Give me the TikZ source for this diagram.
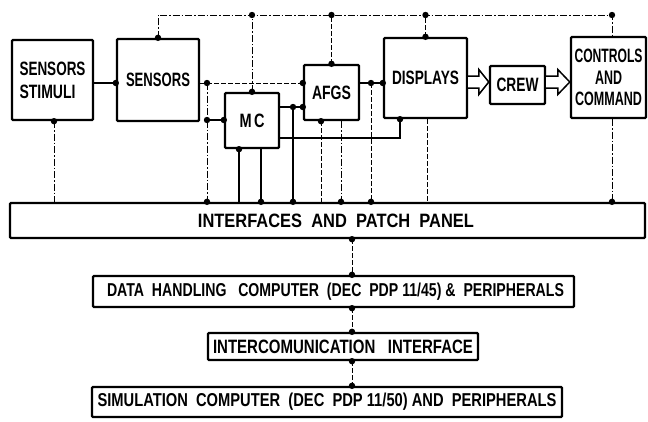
\documentclass[tikz,border=0pt]{standalone}
\usepackage{fontspec}
\usepackage{graphicx}
\setmainfont{Liberation Sans}
\usetikzlibrary{calc}
\newcommand\tx[2]{\resizebox{#1pt}{13.5pt}{\bfseries #2}}
\newcommand\jdot[1]{\fill (#1) circle (3.2pt);}
\tikzset{
  box/.style={draw, line width=2.4pt, rectangle, inner sep=0pt, rounded corners=1pt, fill=white,
    font=\fontsize{16}{23}\selectfont},
  sol/.style={line width=1.3pt},
  dd/.style={line width=1pt, dash pattern=on 7pt off 2pt on 1.5pt off 2pt},
  dsh/.style={line width=1pt, dash pattern=on 5pt off 2pt},
  harrow/.style={line width=1.5pt, fill=white, line join=miter}
}
\begin{document}
\begin{tikzpicture}[x=1pt,y=-1pt]
\useasboundingbox[fill=white] (0,0) rectangle (648,421);
% boxes
\node[box, minimum width=81pt, minimum height=80pt, align=left] (stim) at (52.5,80) {\tx{66}{SENSORS}\\\tx{56}{STIMULI}};
\node[box, minimum width=82pt, minimum height=82pt] (sens) at (158,80) {\tx{64}{SENSORS}};
\node[box, minimum width=54pt, minimum height=55pt] (mc) at (252,120.5) {\tx{25}{M\,C}};
\node[box, minimum width=55pt, minimum height=55pt] (afgs) at (331.5,92.5) {\tx{39}{AFGS}};
\node[box, minimum width=83pt, minimum height=80pt] (disp) at (425.5,78) {\tx{67}{DISPLAYS}};
\node[box, minimum width=55pt, minimum height=38pt] (crew) at (517.5,85) {\tx{42}{CREW}};
\node[box, minimum width=75pt, minimum height=81pt, align=center] (ctrl) at (608.5,77.5) {\tx{68}{CONTROLS}\\[-1.5pt]\tx{27}{AND}\\[-1.5pt]\tx{67}{COMMAND}};
\node[box, minimum width=635pt, minimum height=35pt] (intf) at (327.5,220.5) {\hspace*{17pt}\tx{276}{INTERFACES\ \ AND\ \ PATCH\ \ PANEL}};
\node[box, minimum width=481pt, minimum height=31pt] (data) at (333.5,291.5) {\hspace*{4pt}\tx{457}{DATA\ \ HANDLING\ \ \ COMPUTER\ \ (DEC\ \ PDP\ 11/45)\ \&\ \ PERIPHERALS}};
\node[box, minimum width=270pt, minimum height=27pt] (ic) at (343,346.5) {\tx{260}{INTERCOMUNICATION\ \ \ INTERFACE}};
\node[box, minimum width=470pt, minimum height=30pt] (sim) at (327,402) {\tx{459}{SIMULATION\ \ COMPUTER\ \ (DEC\ \ PDP\ 11/50)\ AND\ \ PERIPHERALS}};
% coordinates
\coordinate (xa) at (54,0);
\coordinate (j1) at (207,83);
\coordinate (j1b) at (207,120);
\coordinate (xm1) at (239,0);
\coordinate (xm2) at (261,0);
\coordinate (j2) at (293,107);
\coordinate (xf1) at (321,0);
\coordinate (xf2) at (341,0);
\coordinate (j3) at (371,83);
\coordinate (xd) at (427,0);
\coordinate (xc) at (612,0);
\coordinate (ybus) at (0,15);
\coordinate (k) at (400,138);
\coordinate (xq) at (352,0);
% connectors
\draw[sol] (stim.east |- j1) -- (sens.west |- j1);
\draw[dsh] (sens.east |- j1) -- (afgs.west |- j1);
\draw[dd] (stim.south -| xa) -- (xa |- intf.north);
\draw[dd] (j1) -- (j1 |- intf.north);
\draw[sol] (j1b) -- (mc.west |- j1b);
\draw[sol] (mc.east |- j2) -- (afgs.west |- j2);
\draw[sol] (j2) -- (j2 |- intf.north);
\draw[sol] (mc.south -| xm1) -- (xm1 |- intf.north);
\draw[sol] (mc.south -| xm2) -- (xm2 |- intf.north);
\draw[sol] (mc.east |- k) -- (k) -- (k |- disp.south);
\draw[dsh] (afgs.south -| xf1) -- (xf1 |- intf.north);
\draw[dd] (afgs.south -| xf2) -- (xf2 |- intf.north);
\draw[sol] (afgs.east |- j3) -- (disp.west |- j3);
\draw[dsh] (j3) -- (j3 |- intf.north);
\draw[dsh] (disp.south -| xd) -- (xd |- intf.north);
\draw[dd] (ctrl.south -| xc) -- (xc |- intf.north);
\draw[dd] (sens.north) |- (ybus -| xc) -- (ctrl.north -| xc);
\draw[dd] (mc.north) -- (mc.north |- ybus);
\draw[dsh] (afgs.north) -- (afgs.north |- ybus);
\draw[dsh] (disp.north) -- (disp.north |- ybus);
\draw[dsh] (intf.south -| xq) -- (data.north -| xq);
\draw[dsh] (data.south -| xq) -- (ic.north -| xq);
\draw[dsh] (ic.south -| xq) -- (sim.north -| xq);
% hollow arrows
\coordinate (ay) at (0,82);
\draw[harrow] ($(disp.east|-ay)+(0,-6)$) -- ($(crew.west|-ay)+(-10,-6)$) -- ($(crew.west|-ay)+(-10,-12.5)$) -- (crew.west|-ay) -- ($(crew.west|-ay)+(-10,12.5)$) -- ($(crew.west|-ay)+(-10,6)$) -- ($(disp.east|-ay)+(0,6)$);
\draw[harrow] ($(crew.east|-ay)+(0,-6)$) -- ($(ctrl.west|-ay)+(-12,-6)$) -- ($(ctrl.west|-ay)+(-12,-12.5)$) -- (ctrl.west|-ay) -- ($(ctrl.west|-ay)+(-12,12.5)$) -- ($(ctrl.west|-ay)+(-12,6)$) -- ($(crew.east|-ay)+(0,6)$);
% dots
\jdot{stim.south -| xa}
\jdot{sens.west |- j1}
\jdot{j1}
\jdot{afgs.west |- j1}
\jdot{j1b}
\jdot{mc.west |- j1b}
\jdot{j2}
\jdot{afgs.west |- j2}
\jdot{mc.south -| xm1}
\jdot{afgs.south -| xf1}
\jdot{j3}
\jdot{disp.west |- j3}
\jdot{k |- disp.south}
\jdot{j1 |- intf.north}
\jdot{xm2 |- intf.north}
\jdot{j2 |- intf.north}
\jdot{xf2 |- intf.north}
\jdot{j3 |- intf.north}
\jdot{xc |- intf.north}
\jdot{sens.north}
\jdot{mc.north}
\jdot{afgs.north}
\jdot{disp.north}
\jdot{mc.north |- ybus}
\jdot{afgs.north |- ybus}
\jdot{disp.north |- ybus}
\jdot{xc |- ybus}
\jdot{intf.south -| xq}
\jdot{data.north -| xq}
\jdot{data.south -| xq}
\jdot{ic.north -| xq}
\jdot{ic.south -| xq}
\jdot{sim.north -| xq}
\end{tikzpicture}
\end{document}
